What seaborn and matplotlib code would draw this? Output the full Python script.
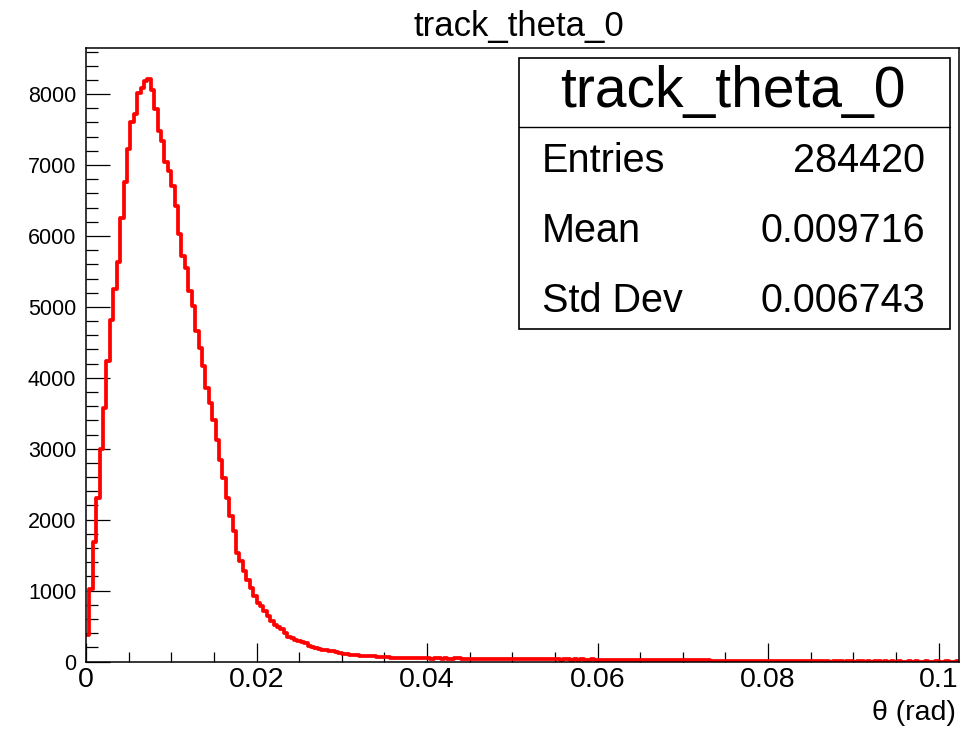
import numpy as np
import pandas as pd
import matplotlib
matplotlib.use("Agg")
import matplotlib.pyplot as plt
import seaborn as sns
from matplotlib.patches import Rectangle
from matplotlib.lines import Line2D
from matplotlib.ticker import MultipleLocator

# ---------------- data ----------------
bin_width = 0.0004
counts = [
    380, 1020, 1680, 2310, 2990, 3570, 4230, 4810, 5250, 5630,
    6260, 6760, 7220, 7610, 7720, 8020, 8080, 8180, 8210, 8060,
    7790, 7485, 7334, 7042, 6911, 6700, 6417, 6027, 5712, 5547,
    5219, 5007, 4654, 4419, 4161, 3855, 3643, 3408, 3126, 2844,
    2585, 2303, 2045, 1834, 1528, 1410, 1269, 1150, 1030, 920,
    830, 776, 705, 640, 564, 517, 490, 460, 400, 350,
    329, 300, 290, 273, 255, 212, 200, 188, 180, 165,
    160, 145, 141, 130, 118, 112, 100, 94, 88, 85,
    84, 80, 82, 76, 74, 62, 70, 66, 58, 56,
    55, 52, 50, 48, 53, 46, 48, 44, 47, 43,
    45, 38, 46, 44, 37, 45, 41, 36, 43, 44,
    35, 40, 37, 38, 41, 42, 36, 35, 37, 34,
    36, 33, 35, 34, 32, 35, 33, 31, 34, 32,
    30, 32, 30, 31, 40, 39, 30, 29, 31, 28,
    30, 29, 28, 30, 27, 29, 28, 27, 29, 26,
    28, 27, 26, 28, 25, 27, 26, 25, 27, 24,
    26, 25, 26, 24, 25, 24, 25, 23, 24, 25,
    23, 24, 23, 24, 22, 23, 24, 22, 23, 22,
    23, 22, 23, 2, 1, 3, 2, 1, 2, 2,
    1, 3, 1, 2, 1, 2, 2, 1, 1, 2,
    1, 2, 1, 1, 2, 1, 1, 2, 1, 1,
    1, 2, 1, 1, 1, 2, 1, 1, 0, 1,
    1, 1, 0, 1, 1, 0, 1, 1, 0, 1,
    0, 1, 1, 0, 1, 0, 1, 0, 1, 0,
    0, 1, 0, 1, 0, 0, 1, 0, 0, 1,
    0, 0, 1, 0, 0, 1,
]
x_ticks = [0, 0.02, 0.04, 0.06, 0.08, 0.1]
x_tick_labels = ["0", "0.02", "0.04", "0.06", "0.08", "0.1"]
y_ticks = [0, 1000, 2000, 3000, 4000, 5000, 6000, 7000, 8000]
y_tick_labels = ["0", "1000", "2000", "3000", "4000", "5000", "6000", "7000", "8000"]
title = "track_theta_0"
x_label = "θ (rad)"
stats_names = ["Entries", "Mean", "Std Dev"]
stats_values = ["284420", "0.009716", "0.006743"]

n_bins = len(counts)
centers = (np.arange(n_bins) + 0.5) * bin_width
df = pd.DataFrame({"theta": centers, "count": counts})

# ---------------- style ----------------
sns.set_style("ticks")
plt.rcParams["font.family"] = ["Liberation Sans", "DejaVu Sans"]
plt.rcParams["text.color"] = "black"
plt.rcParams["xtick.color"] = "black"
plt.rcParams["ytick.color"] = "black"
plt.rcParams["axes.edgecolor"] = "black"

W, H = 975, 730
fig = plt.figure(figsize=(W / 100, H / 100), dpi=100)
fig.patch.set_facecolor("white")


def fx(x):
    return x / W


def fy(y):
    return 1 - y / H


ax = fig.add_axes([fx(86), fy(661.5), (959 - 86) / W, (661.5 - 48) / H])
sns.histplot(data=df, x="theta", weights="count", bins=n_bins,
             binrange=(0, n_bins * bin_width), element="step",
             fill=False, color="#ff0000", linewidth=2.7, ax=ax)
ax.set_xlim(0, 0.1024)
ax.set_ylim(0, 8650)
ax.set_xlabel("")
ax.set_ylabel("")

ax.set_xticks(x_ticks)
ax.set_xticklabels(x_tick_labels)
ax.set_yticks(y_ticks)
ax.set_yticklabels(y_tick_labels)
ax.xaxis.set_minor_locator(MultipleLocator(0.005))
ax.yaxis.set_minor_locator(MultipleLocator(200))
ax.tick_params(axis="x", which="major", direction="in", length=13.7, width=0.9,
               labelsize=20.5, pad=4, top=False, colors="black")
ax.tick_params(axis="x", which="minor", direction="in", length=7.0, width=0.9, top=False)
ax.tick_params(axis="y", which="major", direction="in", length=17.3, width=0.9,
               labelsize=15.5, pad=7, right=False, colors="black")
ax.tick_params(axis="y", which="minor", direction="in", length=8.6, width=0.9, right=False)
for s in ax.spines.values():
    s.set_visible(True)
    s.set_color("black")
    s.set_linewidth(1.1)

# title
fig.text(fx(518.5), fy(36), title, ha="center", va="baseline", fontsize=25, color="black")
# x label
fig.text(fx(956), fy(720), x_label, ha="right", va="baseline", fontsize=20.5, color="black")

# stats box
box_l, box_r, box_t, box_b, sep_y = 519, 950, 58, 329, 126.7
fig.add_artist(Rectangle((fx(box_l), fy(box_b)), (box_r - box_l) / W, (box_b - box_t) / H,
                         transform=fig.transFigure, facecolor="white",
                         edgecolor="black", linewidth=1.2, zorder=5))
fig.add_artist(Line2D([fx(box_l), fx(box_r)], [fy(sep_y), fy(sep_y)],
                      transform=fig.transFigure, color="black", linewidth=1.0, zorder=6))
fig.text(fx(733), fy(106.7), title, ha="center", va="baseline", fontsize=41,
         color="black", zorder=7)
row_base = [171.7, 241.7, 311.7]
for name, val, yb in zip(stats_names, stats_values, row_base):
    fig.text(fx(541.7), fy(yb), name, ha="left", va="baseline", fontsize=28.5,
             color="black", zorder=7)
    fig.text(fx(925), fy(yb), val, ha="right", va="baseline", fontsize=28.5,
             color="black", zorder=7)

fig.savefig("out.png", dpi=100, facecolor="white")
